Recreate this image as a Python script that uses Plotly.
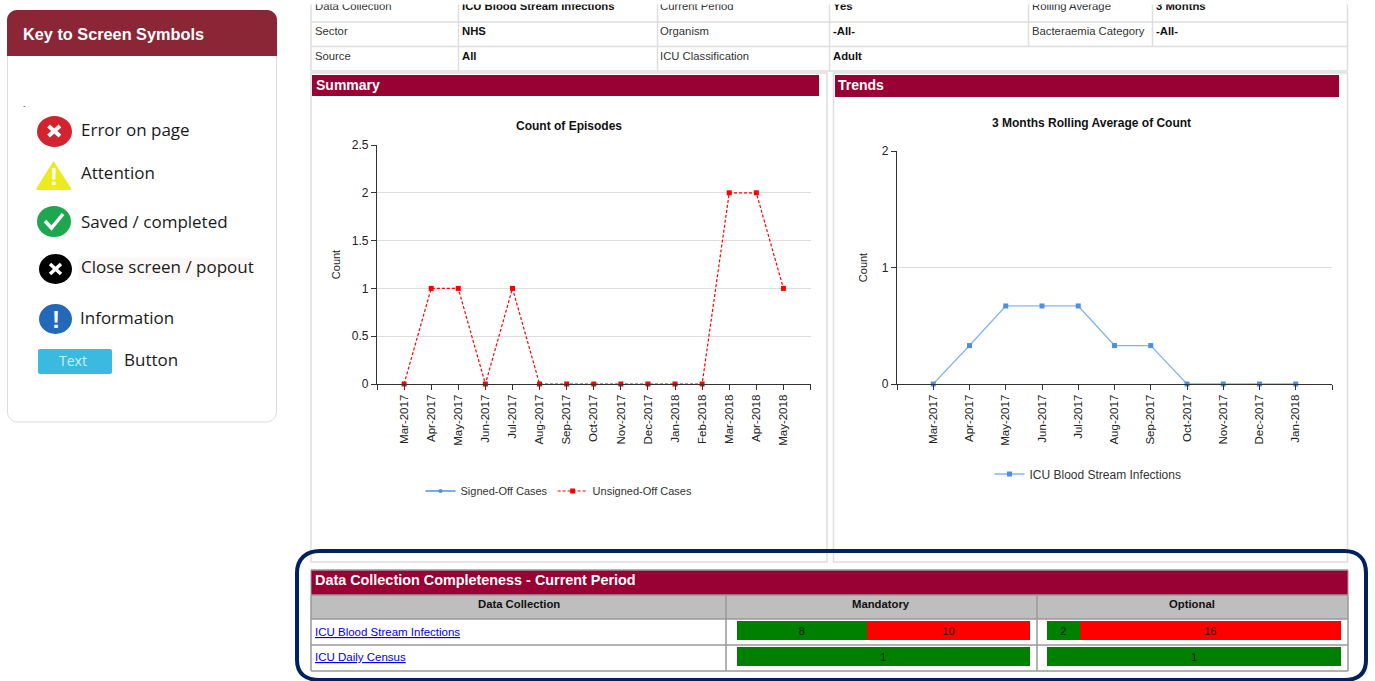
import plotly.graph_objects as go

W, H = 1375, 681
FONT = "Liberation Sans"
ICON_FONT = "Open Sans"

# ---------- data ----------
summary_months = ["Mar-2017", "Apr-2017", "May-2017", "Jun-2017", "Jul-2017", "Aug-2017", "Sep-2017", "Oct-2017",
                  "Nov-2017", "Dec-2017", "Jan-2018", "Feb-2018", "Mar-2018", "Apr-2018", "May-2018"]
# no signed-off marks can be seen in the picture, only its legend entry
signed_off = [None] * 15
unsigned_off = [0, 1, 1, 0, 1, 0, 0, 0, 0, 0, 0, 0, 2, 2, 1]
summary_y_ticks = [0, 0.5, 1, 1.5, 2, 2.5]

trend_months = ["Mar-2017", "Apr-2017", "May-2017", "Jun-2017", "Jul-2017", "Aug-2017", "Sep-2017", "Oct-2017",
                "Nov-2017", "Dec-2017", "Jan-2018"]
rolling_avg = [0, 0.33, 0.67, 0.67, 0.67, 0.33, 0.33, 0, 0, 0, 0]
trend_y_ticks = [0, 1, 2]

collections = ["ICU Blood Stream Infections", "ICU Daily Census"]
mandatory_done = [8, 1]
mandatory_missing = [10, 0]
optional_done = [2, 1]
optional_missing = [16, 0]

filter_rows = [
    ["Data Collection", "ICU Blood Stream Infections", "Current Period", "Yes", "Rolling Average", "3 Months"],
    ["Sector", "NHS", "Organism", "-All-", "Bacteraemia Category", "-All-"],
    ["Source", "All", "ICU Classification", "Adult"],
]
key_items = ["Error on page", "Attention", "Saved / completed", "Close screen / popout", "Information"]


# ---------- pixel helpers ----------
def px(x):
    return x / W


def py(y):
    return 1 - y / H


shapes, annots = [], []


def rect(x0, y0, x1, y1, fill=None, line=None, lw=1, layer="below"):
    shapes.append(dict(type="rect", xref="paper", yref="paper", x0=px(x0), x1=px(x1), y0=py(y0), y1=py(y1),
                       fillcolor=fill or "rgba(0,0,0,0)", line=dict(color=line or "rgba(0,0,0,0)", width=lw if line else 0),
                       layer=layer))


def hline(x0, x1, y, color, lw=1):
    shapes.append(dict(type="line", xref="paper", yref="paper", x0=px(x0), x1=px(x1), y0=py(y), y1=py(y),
                       line=dict(color=color, width=lw), layer="below"))


def vline(x, y0, y1, color, lw=1):
    shapes.append(dict(type="line", xref="paper", yref="paper", x0=px(x), x1=px(x), y0=py(y0), y1=py(y1),
                       line=dict(color=color, width=lw), layer="below"))


def path(points_cmd, fill=None, line=None, lw=1, layer="below"):
    """points_cmd: list of SVG commands using pixel coords, converted to paper."""
    d = []
    for cmd in points_cmd:
        if isinstance(cmd, str):
            d.append(cmd)
        else:
            d.append(f"{px(cmd[0])},{py(cmd[1])}")
    shapes.append(dict(type="path", xref="paper", yref="paper", path=" ".join(d),
                       fillcolor=fill or "rgba(0,0,0,0)", line=dict(color=line or "rgba(0,0,0,0)", width=lw if line else 0),
                       layer=layer))


def rrect(x0, y0, x1, y1, r, fill=None, line=None, lw=1, top_only=False):
    k = 0.45 * r
    cmds = ["M", (x0 + r, y0), "L", (x1 - r, y0), "C", (x1 - k, y0), (x1, y0 + k), (x1, y0 + r)]
    if top_only:
        cmds += ["L", (x1, y1), "L", (x0, y1)]
    else:
        cmds += ["L", (x1, y1 - r), "C", (x1, y1 - k), (x1 - k, y1), (x1 - r, y1),
                 "L", (x0 + r, y1), "C", (x0 + k, y1), (x0, y1 - k), (x0, y1 - r)]
    cmds += ["L", (x0, y0 + r), "C", (x0, y0 + k), (x0 + k, y0), (x0 + r, y0), "Z"]
    path(cmds, fill, line, lw)


def circle(x0, y0, x1, y1, fill):
    shapes.append(dict(type="circle", xref="paper", yref="paper", x0=px(x0), x1=px(x1), y0=py(y0), y1=py(y1),
                       fillcolor=fill, line=dict(width=0), layer="below"))


def text(x, y, s, size=11, color="#222", bold=False, anchor="left", font=FONT, angle=0):
    annots.append(dict(xref="paper", yref="paper", x=px(x), y=py(y), xanchor=anchor, yanchor="middle",
                       text=f"<b>{s}</b>" if bold else s, showarrow=False, textangle=angle,
                       font=dict(family=font, size=size, color=color), borderpad=0, borderwidth=0))


# ---------- key panel ----------
rrect(7.5, 10.5, 276.5, 422, 10, "#ffffff", "#dcdcdc", 1)
rrect(7, 10, 277, 56, 10, "#8A2635", top_only=True)
text(23, 33.5, "Key to Screen Symbols", 16.3, "#ffffff", True)
text(23, 105.5, "-", 8, "#333")

circle(37, 116, 72, 147, "#D2232E")
shapes.append(dict(type="line", xref="paper", yref="paper", x0=px(48.5), x1=px(60), y0=py(126), y1=py(136),
                   line=dict(color="#fff", width=4), layer="below"))
shapes.append(dict(type="line", xref="paper", yref="paper", x0=px(48.5), x1=px(60), y0=py(136), y1=py(126),
                   line=dict(color="#fff", width=4), layer="below"))

path(["M", (53.5, 161), "L", (71, 188), "Q", (71.5, 190), (69, 190), "L", (38, 190), "Q", (35.5, 190), (36.5, 188), "Z"],
     "#EDEB1C")
text(53.5, 176, "<b>!</b>", 24, "#ffffff", anchor="center")

circle(37, 206, 71, 237, "#1FA650")
path(["M", (45, 221), "L", (51.5, 228), "L", (63, 214)], None, "#ffffff", 3.5)

circle(39, 254, 72, 284, "#000000")
for a, b in (((50, 264), (61, 274)), ((50, 274), (61, 264))):
    shapes.append(dict(type="line", xref="paper", yref="paper", x0=px(a[0]), x1=px(b[0]), y0=py(a[1]), y1=py(b[1]),
                       line=dict(color="#fff", width=3.5), layer="below"))

circle(39, 304, 72, 334, "#2468B8")
text(55.5, 319, "<b>!</b>", 24, "#ffffff", anchor="center")

rrect(38, 349, 112, 374, 2, "#3BB9E0")
text(73, 360, "Text", 14, "#CFEFF8", anchor="center", font=ICON_FONT)
text(124, 359, "Button", 17, "#1a1a1a", font=ICON_FONT)

rect(78, 258, 253, 280, "#FDF8F8")
for item, (x, y) in zip(key_items, [(81, 129), (81, 173), (81, 221), (81, 267), (80, 317)]):
    text(x, y, item, 17, "#1a1a1a", font=ICON_FONT)

# ---------- filter table ----------
GRID = "#DEDEDE"
for y in (22, 46.5, 71):
    hline(311, 1347.5, y, GRID, 1.5)
for x in (311, 458.5, 657.5, 829.5, 1347.5):
    vline(x, 4, 71, GRID, 1.5)
for x in (1028.5, 1152.5):
    vline(x, 4, 46.5, GRID, 1.5)

col_x = [315, 462, 660, 833, 1032, 1156]
for row, y in zip(filter_rows, (6, 31, 56)):
    for i, (cell, x) in enumerate(zip(row, col_x)):
        text(x, y, cell, 11.3, "#111" if i % 2 else "#333", bool(i % 2))

# masks the first table row, which the screenshot cuts at the top
annots.append(dict(xref="paper", yref="paper", x=px(800), y=py(0), xanchor="center", yanchor="top", text=" ",
                   showarrow=False, bgcolor="#ffffff", width=1100, height=2.5, borderpad=0,
                   font=dict(size=1)))

# ---------- chart panels ----------
rect(311, 73, 827, 562, None, GRID, 1.5)
rect(833.5, 73, 1347.5, 562, None, GRID, 1.5)
rect(312, 75, 819, 96, "#990033")
rect(835, 75, 1339, 97, "#990033")
text(315.5, 85, "Summary", 14, "#ffffff", True)
text(838, 85, "Trends", 14, "#ffffff", True)
text(569, 126, "Count of Episodes", 12, "#111", True, "center")
text(1091, 123, "3 Months Rolling Average of Count", 12, "#111", True, "center")

# ---------- completeness table ----------
path(["M", (320, 551), "L", (1344, 551), "C", (1358, 551), (1366, 559), (1366, 573),
      "L", (1366, 660), "C", (1366, 674), (1358, 680), (1344, 680),
      "L", (320, 680), "C", (306, 680), (297, 674), (297, 660),
      "L", (297, 573), "C", (297, 559), (306, 551), (320, 551), "Z"], None, "#002060", 4)
rect(311, 570, 1348, 595, "#990033")
rect(311, 595, 1348, 619, "#BEBEBE")
LINE = "#999999"
for y in (570, 595, 619, 645, 671):
    hline(311, 1348, y, LINE, 1.5)
for x in (311, 726, 1037, 1348):
    vline(x, 595, 671, LINE, 1.5)
vline(311, 570, 595, LINE, 1)
vline(1348, 570, 595, LINE, 1)
text(315, 580, "Data Collection Completeness - Current Period", 14.4, "#ffffff", True)
text(519, 604, "Data Collection", 11.3, "#111", True, "center")
text(881, 604, "Mandatory", 11.3, "#111", True, "center")
text(1192, 604, "Optional", 11.3, "#111", True, "center")
for name, y in zip(collections, (632, 657)):
    text(315, y, f"<u>{name}</u>", 11.5, "#0000EE")


# ---------- traces ----------
def xticks(labels):
    vals = list(range(-1, len(labels) + 1))
    return vals, [""] + labels + [""]


def axis_x(domain, labels, anchor):
    vals, txt = xticks(labels)
    return dict(domain=[px(domain[0]), px(domain[1])], range=[-1, len(labels)], tickmode="array", tickvals=vals,
                ticktext=txt, tickangle=-90, ticks="outside", ticklen=5, tickcolor="#333", showline=True,
                linecolor="#333", linewidth=1.2, showgrid=False, zeroline=False, anchor=anchor,
                tickfont=dict(family=FONT, size=11.5, color="#222"), fixedrange=True)


def axis_y(top, bottom, rng, ticks, anchor, standoff):
    return dict(domain=[py(bottom), py(top)], range=rng, tickmode="array", tickvals=ticks,
                ticktext=[f"{t:g}" for t in ticks], ticks="outside", ticklen=5, tickcolor="#333", showline=True,
                linecolor="#333", linewidth=1.2, showgrid=True, gridcolor="#DDDDDD", gridwidth=1, zeroline=False,
                anchor=anchor, tickfont=dict(family=FONT, size=12, color="#222"), fixedrange=True,
                title=dict(text="Count", font=dict(family=FONT, size=11, color="#222"), standoff=standoff))


fig = go.Figure()
fig.add_trace(go.Scatter(x=list(range(len(summary_months))), y=signed_off, name="Signed-Off Cases", mode="lines+markers",
                         line=dict(color="#4A90E8", width=1.3), marker=dict(symbol="circle", size=4, color="#4A90E8"),
                         xaxis="x", yaxis="y", legend="legend", cliponaxis=False))
fig.add_trace(go.Scatter(x=list(range(len(summary_months))), y=unsigned_off, name="Unsigned-Off Cases",
                         mode="lines+markers", line=dict(color="#FF0000", width=1.2, dash="3px,2px"),
                         marker=dict(symbol="square", size=5, color="#FF0000"), xaxis="x", yaxis="y", legend="legend",
                         cliponaxis=False))
fig.add_trace(go.Scatter(x=list(range(len(trend_months))), y=rolling_avg, name="ICU Blood Stream Infections",
                         mode="lines+markers", line=dict(color="#86B4F0", width=1.3),
                         marker=dict(symbol="square", size=5, color="#4A90E8"), xaxis="x2", yaxis="y2",
                         legend="legend2", cliponaxis=False))


def bar_pair(done, missing, xa, ya):
    for vals, colour, label in ((done, "#008000", "Complete"), (missing, "#FF0000", "Incomplete")):
        fig.add_trace(go.Bar(y=collections, x=vals, orientation="h", marker=dict(color=colour, line=dict(width=0)),
                             text=[str(v) if v else "" for v in vals], textposition="inside",
                             insidetextanchor="middle", textangle=0, constraintext="none",
                             textfont=dict(family=FONT, size=11, color="#1a1a1a"), xaxis=xa, yaxis=ya,
                             showlegend=False, name=label))


bar_pair(mandatory_done, mandatory_missing, "x3", "y3")
bar_pair(optional_done, optional_missing, "x4", "y4")


def bar_x(x0, x1, anchor):
    return dict(domain=[px(x0), px(x1)], range=[0, 1], visible=False, anchor=anchor, fixedrange=True)


def bar_y(anchor):
    return dict(domain=[py(669.5), py(617.5)], categoryorder="array", categoryarray=collections, autorange="reversed",
                visible=False, anchor=anchor, fixedrange=True)


def legend(x, y, size):
    return dict(orientation="h", x=px(x), y=py(y), xanchor="center", yanchor="middle", bgcolor="rgba(0,0,0,0)",
                font=dict(family=FONT, size=size, color="#333"), itemwidth=30, tracegroupgap=0, traceorder="normal")


fig.update_layout(
    width=W, height=H, margin=dict(l=0, r=0, t=0, b=0, autoexpand=False), paper_bgcolor="#ffffff",
    plot_bgcolor="rgba(0,0,0,0)", barmode="stack", barnorm="fraction", bargap=0.27, showlegend=True,
    xaxis=axis_x((377, 810.5), summary_months, "y"),
    yaxis=axis_y(145, 384, [0, 2.5], summary_y_ticks, "x", 8),
    xaxis2=axis_x((897, 1332), trend_months, "y2"),
    yaxis2=axis_y(151, 384, [0, 2], trend_y_ticks, "x2", 11),
    xaxis3=bar_x(736.5, 1030, "y3"), yaxis3=bar_y("x3"),
    xaxis4=bar_x(1047, 1341, "y4"), yaxis4=bar_y("x4"),
    legend=legend(559, 491, 11), legend2=legend(1088, 474, 12),
    shapes=shapes, annotations=annots, hovermode=False,
)

fig.write_html("out.html", config=dict(displayModeBar=False),
               post_script="document.body.style.margin='0';document.documentElement.style.overflow='hidden';")
